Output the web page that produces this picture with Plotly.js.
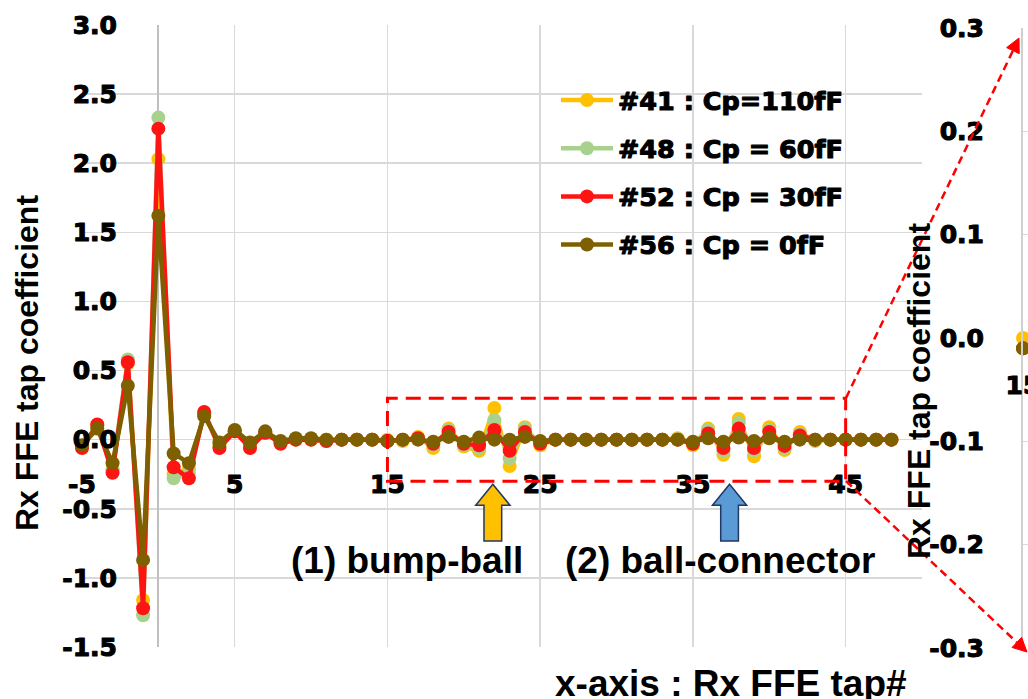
<!DOCTYPE html>
<html>
<head>
<meta charset="utf-8">
<script src="https://cdn.plot.ly/plotly-3.0.1.min.js"></script>
<style>
  html, body { margin: 0; padding: 0; background: #ffffff; }
  #chart { width: 1028px; height: 699px; }
  /* extra-heavy numerals and legend labels */
  #chart .xtick text, #chart .ytick text, #chart .x2tick text, #chart .y2tick text, #chart .legendtext {
    stroke: #000000; stroke-width: 1.1px; stroke-linejoin: round;
  }
</style>
</head>
<body>
<div id="chart"></div>
<script>
// Rx FFE tap index
const taps = [-5, -4, -3, -2, -1, 0, 1, 2, 3, 4,
              5, 6, 7, 8, 9, 10, 11, 12, 13, 14,
              15, 16, 17, 18, 19, 20, 21, 22, 23, 24,
              25, 26, 27, 28, 29, 30, 31, 32, 33, 34,
              35, 36, 37, 38, 39, 40, 41, 42, 43, 44,
              45, 46, 47, 48];

// Tap coefficients per sample
const cp110 = [-0.05, 0.10, -0.22, 0.55, -1.16, 2.03, -0.25, -0.21, 0.18, -0.04,
               0.06, -0.04, 0.05, -0.02, 0.00, 0.00, 0.00, 0.00, 0.00, 0.00,
               0.00, -0.01, 0.02, -0.06, 0.08, -0.05, -0.08, 0.23, -0.19, 0.09,
               -0.04, 0.00, 0.00, 0.00, 0.00, 0.00, 0.00, 0.00, 0.00, 0.01,
               -0.04, 0.08, -0.11, 0.15, -0.12, 0.09, -0.075, 0.055, -0.01, 0.00,
               0.00, 0.00, 0.00, 0.00];
const cp60 = [-0.05, 0.10, -0.22, 0.58, -1.27, 2.33, -0.28, -0.24, 0.19, -0.05,
              0.06, -0.05, 0.05, -0.02, 0.00, 0.00, -0.01, 0.00, 0.00, 0.00,
              -0.01, -0.005, 0.01, -0.04, 0.07, -0.04, -0.06, 0.14, -0.135, 0.08,
              -0.03, 0.00, 0.00, 0.00, 0.00, 0.00, 0.00, 0.00, 0.00, 0.005,
              -0.03, 0.07, -0.085, 0.12, -0.08, 0.07, -0.06, 0.04, -0.005, 0.00,
              0.00, 0.00, 0.00, 0.00];
const cp30 = [-0.06, 0.11, -0.24, 0.56, -1.22, 2.25, -0.20, -0.28, 0.20, -0.06,
              0.06, -0.06, 0.05, -0.03, 0.00, 0.00, -0.01, 0.00, 0.00, 0.00,
              -0.01, 0.00, 0.01, -0.03, 0.055, -0.03, -0.04, 0.07, -0.08, 0.055,
              -0.03, 0.00, 0.00, 0.00, 0.00, 0.00, 0.00, 0.00, 0.00, 0.00,
              -0.03, 0.045, -0.06, 0.08, -0.06, 0.055, -0.045, 0.03, 0.00, 0.00,
              0.00, 0.00, 0.00, 0.00];
const cp0 = [-0.04, 0.08, -0.17, 0.39, -0.87, 1.62, -0.10, -0.17, 0.17, -0.02,
             0.07, -0.02, 0.06, -0.01, 0.01, 0.01, 0.00, 0.00, 0.00, 0.00,
             -0.01, 0.00, 0.00, -0.015, 0.02, -0.015, 0.015, 0.00, 0.00, 0.02,
             -0.01, 0.00, 0.00, 0.00, 0.00, 0.00, 0.00, 0.00, 0.00, 0.00,
             -0.015, 0.01, -0.015, 0.015, -0.01, 0.01, -0.015, 0.00, 0.00, 0.00,
             0.00, 0.00, 0.00, 0.00];

const seriesNames = ["#41 : Cp=110fF", "#48 : Cp = 60fF", "#52 : Cp = 30fF", "#56 : Cp = 0fF"];
const seriesColors = ["#FFC000", "#A9D18E", "#FF1414", "#7F6000"];
const seriesValues = [cp110, cp60, cp30, cp0];

// Tick labels
const xTickVals = [-5, 5, 15, 25, 35, 45];
const xTickText = ["-5", "5", "15", "25", "35", "45"];
const yTickVals = [-1.5, -1.0, -0.5, 0.0, 0.5, 1.0, 1.5, 2.0, 2.5, 3.0];
const yTickText = ["-1.5", "-1.0", "-0.5", "0.0", "0.5", "1.0", "1.5", "2.0", "2.5", "3.0"];
const zoomTickVals = [-0.3, -0.2, -0.1, 0.0, 0.1, 0.2, 0.3];
const zoomTickText = ["-0.3", "-0.2", "-0.1", "0.0", "0.1", "0.2", "0.3"];
const zoomXTickVals = [15];
const zoomXTickText = ["15"];

// Zoom window around the reflections
const zoomWindow = {x0: 15, x1: 45, y0: -0.3, y1: 0.3};
const bumpTap = 21.9, connectorTap = 37.4;
const annotationLabels = ["(1) bump-ball", "(2) ball-connector"];
const axisTitle = "Rx FFE tap coefficient";
const xTitle = "x-axis : Rx FFE tap#";

// ---- page geometry helpers (pixels -> paper fractions) ----
const W = 1028, H = 699;
const px = v => v / W;
const py = v => 1 - v / H;

const mainX = [px(82), px(922)];
const mainY = [py(647), py(25)];
const yRange = [-1.5, 3.0];
const zeroPos = mainY[0] + (0 - yRange[0]) / (yRange[1] - yRange[0]) * (mainY[1] - mainY[0]);

const zoomX = [px(1023), 1];
const zoomY = [py(648), py(28)];
const zoomZeroPos = zoomY[0] + 0.5 * (zoomY[1] - zoomY[0]);

const tickFont = {family: "DejaVu Sans", size: 25, color: "#000000", weight: "bold"};
const legendFont = {family: "DejaVu Sans", size: 25.5, color: "#000000", weight: "bold"};
const gridColor = "#D9D9D9";

const traces = [];
seriesValues.forEach((vals, i) => {
  traces.push({
    type: "scatter", mode: "lines+markers",
    x: taps, y: vals, name: seriesNames[i],
    legendgroup: "g" + i,
    line: {color: seriesColors[i], width: 4.5},
    marker: {color: seriesColors[i], size: 14},
    cliponaxis: false,
    xaxis: "x", yaxis: "y"
  });
});
// magnified view on the right, same samples inside the zoom window
seriesValues.forEach((vals, i) => {
  const xs = [], ys = [];
  taps.forEach((t, k) => { if (t >= zoomWindow.x0 && t <= zoomWindow.x1) { xs.push(t); ys.push(vals[k]); } });
  traces.push({
    type: "scatter", mode: "lines+markers",
    x: xs, y: ys, showlegend: false,
    line: {color: seriesColors[i], width: 4.5},
    marker: {color: seriesColors[i], size: 14},
    cliponaxis: false,
    xaxis: "x2", yaxis: "y2", hoverinfo: "skip"
  });
});

// block arrow pointing up, centred on a tap (data units of the main axes)
function blockArrow(cx, fill) {
  const hw = 1.12, sw = 0.58;
  const tip = -0.322, base = -0.474, bottom = -0.734;
  return {
    type: "path", xref: "x", yref: "y", layer: "above",
    path: `M ${cx} ${tip} L ${cx + hw} ${base} L ${cx + sw} ${base} L ${cx + sw} ${bottom} ` +
          `L ${cx - sw} ${bottom} L ${cx - sw} ${base} L ${cx - hw} ${base} Z`,
    fillcolor: fill, line: {color: "#203864", width: 1.5}
  };
}

// dashed connector with a triangular head, in pixel space
function connector(x0, y0, x1, y1) {
  const dx = x1 - x0, dy = y1 - y0, L = Math.hypot(dx, dy);
  const ux = dx / L, uy = dy / L, nx = -uy, ny = ux;
  const hl = 14, hw = 7;
  const bx = x1 - ux * hl, by = y1 - uy * hl;
  return [
    {type: "line", xref: "paper", yref: "paper",
     x0: px(x0), y0: py(y0), x1: px(bx), y1: py(by),
     line: {color: "#FF0000", width: 2.5, dash: "8px,5px"}},
    {type: "path", xref: "paper", yref: "paper",
     path: `M ${px(x1)} ${py(y1)} L ${px(bx + nx * hw)} ${py(by + ny * hw)} L ${px(bx - nx * hw)} ${py(by - ny * hw)} Z`,
     fillcolor: "#FF0000", line: {color: "#FF0000", width: 1}}
  ];
}

const shapes = [
  {type: "rect", xref: "x", yref: "y", x0: zoomWindow.x0, x1: zoomWindow.x1, y0: zoomWindow.y0, y1: zoomWindow.y1,
   line: {color: "#FF0000", width: 3, dash: "15px,8px"}, fillcolor: "rgba(0,0,0,0)", layer: "above"},
  blockArrow(bumpTap, "#FFC000"),
  blockArrow(connectorTap, "#5B9BD5"),
  ...connector(846, 398, 1019, 38),
  ...connector(846, 481, 1027, 652)
];

const textFont = {family: "Liberation Sans, Arial, sans-serif", size: 37, color: "#000000", weight: "bold"};
const titleFont = {family: "Liberation Sans, Arial, sans-serif", size: 32, color: "#000000", weight: "bold"};

const annotations = [
  {xref: "paper", yref: "paper", x: px(407), y: py(560), text: annotationLabels[0], showarrow: false,
   xanchor: "center", yanchor: "middle", font: textFont},
  {xref: "paper", yref: "paper", x: px(720), y: py(560), text: annotationLabels[1], showarrow: false,
   xanchor: "center", yanchor: "middle", font: textFont},
  {xref: "paper", yref: "paper", x: px(731), y: py(683), text: xTitle, showarrow: false,
   xanchor: "center", yanchor: "middle", font: textFont},
  {xref: "paper", yref: "paper", x: px(27), y: py(363), text: axisTitle, showarrow: false, textangle: -90,
   xanchor: "center", yanchor: "middle", font: titleFont},
  {xref: "paper", yref: "paper", x: px(919), y: py(391), text: axisTitle, showarrow: false, textangle: -90,
   xanchor: "center", yanchor: "middle", font: titleFont}
];

const layout = {
  width: W, height: H,
  margin: {l: 0, r: 0, t: 0, b: 0, autoexpand: false},
  paper_bgcolor: "#ffffff", plot_bgcolor: "rgba(0,0,0,0)",
  showlegend: true,
  legend: {
    x: px(556), y: py(77), xanchor: "left", yanchor: "top",
    bgcolor: "rgba(0,0,0,0)", font: legendFont, tracegroupgap: 12,
    traceorder: "grouped", itemwidth: 52
  },
  xaxis: {
    domain: mainX, range: [-5, 50], anchor: "free", position: zeroPos,
    tickvals: xTickVals, ticktext: xTickText, tickfont: tickFont,
    ticks: "", ticklabelstandoff: 27,
    showgrid: true, gridcolor: gridColor, gridwidth: 1.5,
    zeroline: true, zerolinecolor: "#BFBFBF", zerolinewidth: 2,
    showline: false, fixedrange: true
  },
  yaxis: {
    domain: mainY, range: yRange, anchor: "x",
    tickvals: yTickVals, ticktext: yTickText, tickfont: tickFont,
    ticks: "", ticklabelstandoff: -36,
    showgrid: true, gridcolor: gridColor, gridwidth: 1.5,
    zeroline: false, showline: false, fixedrange: true
  },
  xaxis2: {
    domain: zoomX, range: [15, 15.17], anchor: "free", position: zoomZeroPos,
    tickvals: zoomXTickVals, ticktext: zoomXTickText, tickfont: tickFont,
    ticks: "", ticklabelstandoff: 30, ticklabeloverflow: "allow",
    showgrid: false, zeroline: false, showline: false, fixedrange: true
  },
  yaxis2: {
    domain: zoomY, range: [-0.3, 0.3], anchor: "x2",
    tickvals: zoomTickVals, ticktext: zoomTickText, tickfont: tickFont,
    ticks: "", ticklabelstandoff: 32,
    showgrid: true, gridcolor: gridColor, gridwidth: 1.5,
    zeroline: false, showline: true, linecolor: "#D0D0D0", linewidth: 2, fixedrange: true
  },
  shapes: shapes,
  annotations: annotations
};

Plotly.newPlot("chart", traces, layout, {displayModeBar: false, staticPlot: true});
</script>
</body>
</html>
